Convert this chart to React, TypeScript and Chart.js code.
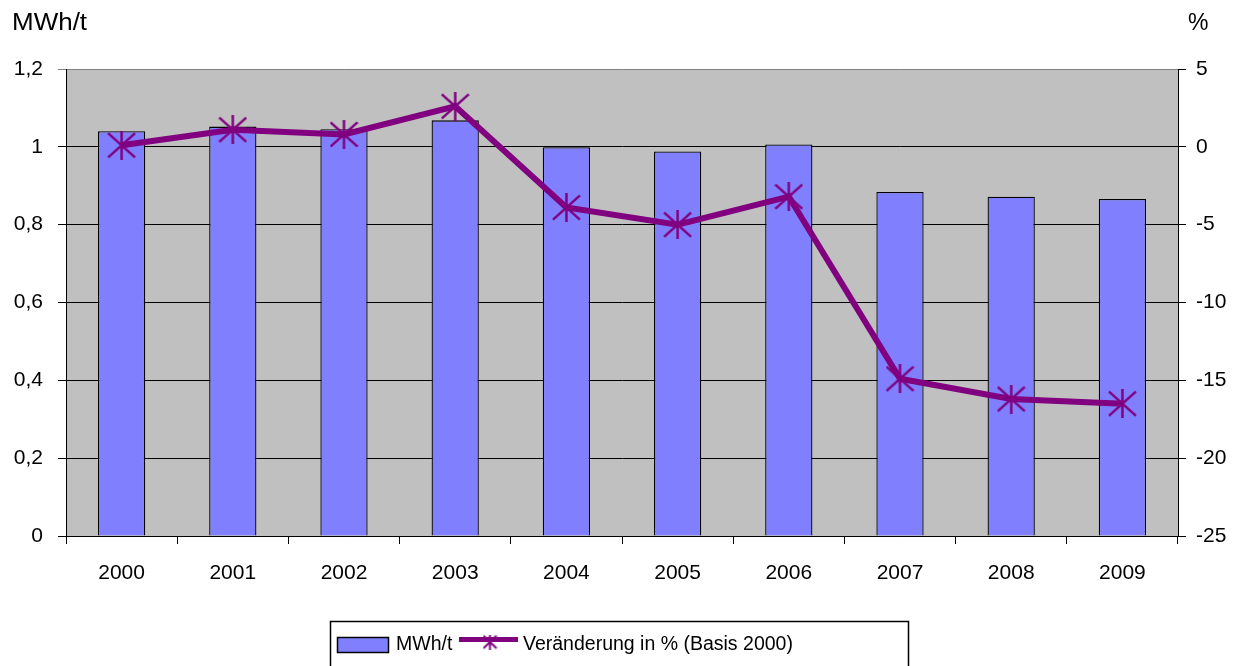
import React, { useEffect, useRef } from "react";
import { Chart, registerables } from "chart.js";

Chart.register(...registerables);

const years = ["2000", "2001", "2002", "2003", "2004", "2005", "2006", "2007", "2008", "2009"];
const mwhPerTonne = [1.04, 1.052, 1.045, 1.068, 0.999, 0.988, 1.006, 0.884, 0.872, 0.866];
const changePercent = [0.1, 1.1, 0.8, 2.6, -3.9, -5.0, -3.2, -14.9, -16.2, -16.5];
const leftTicks = [0, 0.2, 0.4, 0.6, 0.8, 1, 1.2];
const rightTicks = [-25, -20, -15, -10, -5, 0, 5];

const FONT = "'Liberation Sans', Arial, sans-serif";
const PURPLE = "#800080";
const BAR = "#8080FF";

function makeStar(size: number, lw: number): HTMLCanvasElement {
  const c = document.createElement("canvas");
  c.width = size;
  c.height = size;
  const g = c.getContext("2d")!;
  g.strokeStyle = PURPLE;
  g.lineWidth = lw;
  const m = size / 2;
  const h = size * 0.42;
  g.beginPath();
  g.moveTo(m, 0);
  g.lineTo(m, size);
  g.moveTo(1, m - h);
  g.lineTo(size - 1, m + h);
  g.moveTo(size - 1, m - h);
  g.lineTo(1, m + h);
  g.stroke();
  return c;
}

export default function App() {
  const ref = useRef<HTMLCanvasElement>(null);
  useEffect(() => {
    const star = makeStar(29, 2.5);
    const smallStar = makeStar(15, 2);
    const decor = {
      id: "decor",
      beforeDraw(chart: any) {
        const { ctx, chartArea } = chart;
        ctx.save();
        ctx.fillStyle = "#C0C0C0";
        ctx.fillRect(chartArea.left, chartArea.top, chartArea.right - chartArea.left, chartArea.bottom - chartArea.top);
        ctx.restore();
      },
      afterDraw(chart: any) {
        const { ctx } = chart;
        ctx.save();
        ctx.fillStyle = "#000";
        ctx.font = `23px ${FONT}`;
        ctx.textBaseline = "alphabetic";
        ctx.textAlign = "left";
        ctx.save();
        ctx.translate(12, 30);
        ctx.scale(1.13, 1);
        ctx.fillText("MWh/t", 0, 0);
        ctx.restore();
        ctx.fillText("%", 1188, 30);
        // legend
        ctx.strokeStyle = "#000";
        ctx.lineWidth = 1.5;
        ctx.strokeRect(330.5, 621.5, 578, 60);
        ctx.fillStyle = BAR;
        ctx.fillRect(337, 637, 51, 15);
        ctx.lineWidth = 1.5;
        ctx.strokeRect(337.5, 637.5, 51, 15);
        ctx.fillStyle = "#000";
        ctx.font = `19.5px ${FONT}`;
        ctx.textBaseline = "middle";
        ctx.fillText("MWh/t", 396, 645);
        ctx.strokeStyle = PURPLE;
        ctx.lineWidth = 5;
        ctx.beginPath();
        ctx.moveTo(459, 639.5);
        ctx.lineTo(518, 639.5);
        ctx.stroke();
        ctx.drawImage(smallStar, 490 - 7.5, 642 - 7.5);
        ctx.fillStyle = "#000";
        ctx.fillText("Veränderung in % (Basis 2000)", 523, 645);
        ctx.restore();
      },
    };
    const chart = new Chart(ref.current!, {
      type: "bar",
      data: {
        labels: years,
        datasets: [
          {
            type: "line",
            label: "Veränderung in % (Basis 2000)",
            data: changePercent,
            yAxisID: "y1",
            borderColor: PURPLE,
            backgroundColor: PURPLE,
            borderWidth: 6,
            pointStyle: star as any,
            pointRadius: 14,
            tension: 0,
            order: 0,
          } as any,
          {
            type: "bar",
            label: "MWh/t",
            data: mwhPerTonne,
            yAxisID: "y",
            backgroundColor: BAR,
            borderColor: "#000",
            borderWidth: 1.3,
            categoryPercentage: 1,
            barPercentage: 0.425,
            order: 1,
          } as any,
        ],
      },
      options: {
        responsive: false,
        animation: false,
        layout: { padding: { top: 69, left: 0, right: 0, bottom: 0 } },
        plugins: { legend: { display: false }, tooltip: { enabled: false } },
        scales: {
          x: {
            offset: true,
            grid: { offset: true, drawOnChartArea: false, color: "#000", tickLength: 8, lineWidth: 1 },
            border: { color: "#000", width: 1 },
            ticks: { color: "#000", font: { family: FONT, size: 21 }, padding: 17, maxRotation: 0 },
            afterFit(s: any) {
              s.height = 130;
            },
          },
          y: {
            position: "left",
            min: 0,
            max: 1.2,
            afterBuildTicks(s: any) {
              s.ticks = leftTicks.map((v) => ({ value: v }));
            },
            grid: {
              color: (c: any) => (c.tick && c.tick.value === 1.2 ? "#808080" : "#000"),
              tickLength: 8,
              lineWidth: 1,
            },
            border: { color: "#000", width: 1 },
            ticks: {
              color: "#000",
              font: { family: FONT, size: 21 },
              padding: 15,
              callback: (v: any) => String(Math.round(Number(v) * 10) / 10).replace(".", ","),
            },
            afterFit(s: any) {
              s.width = 66;
            },
          },
          y1: {
            position: "right",
            min: -25,
            max: 5,
            afterBuildTicks(s: any) {
              s.ticks = rightTicks.map((v) => ({ value: v }));
            },
            grid: { drawOnChartArea: false, color: "#000", tickLength: 8 },
            border: { color: "#000", width: 1 },
            ticks: { color: "#000", font: { family: FONT, size: 21 }, padding: 10 },
            afterFit(s: any) {
              s.width = 55;
            },
          },
        },
      },
      plugins: [decor],
    });
    return () => chart.destroy();
  }, []);
  return (
    <div style={{ position: "fixed", left: 0, top: 0, width: 1233, height: 666, background: "#fff" }}>
      <canvas ref={ref} width={1233} height={666} style={{ display: "block" }} />
    </div>
  );
}
